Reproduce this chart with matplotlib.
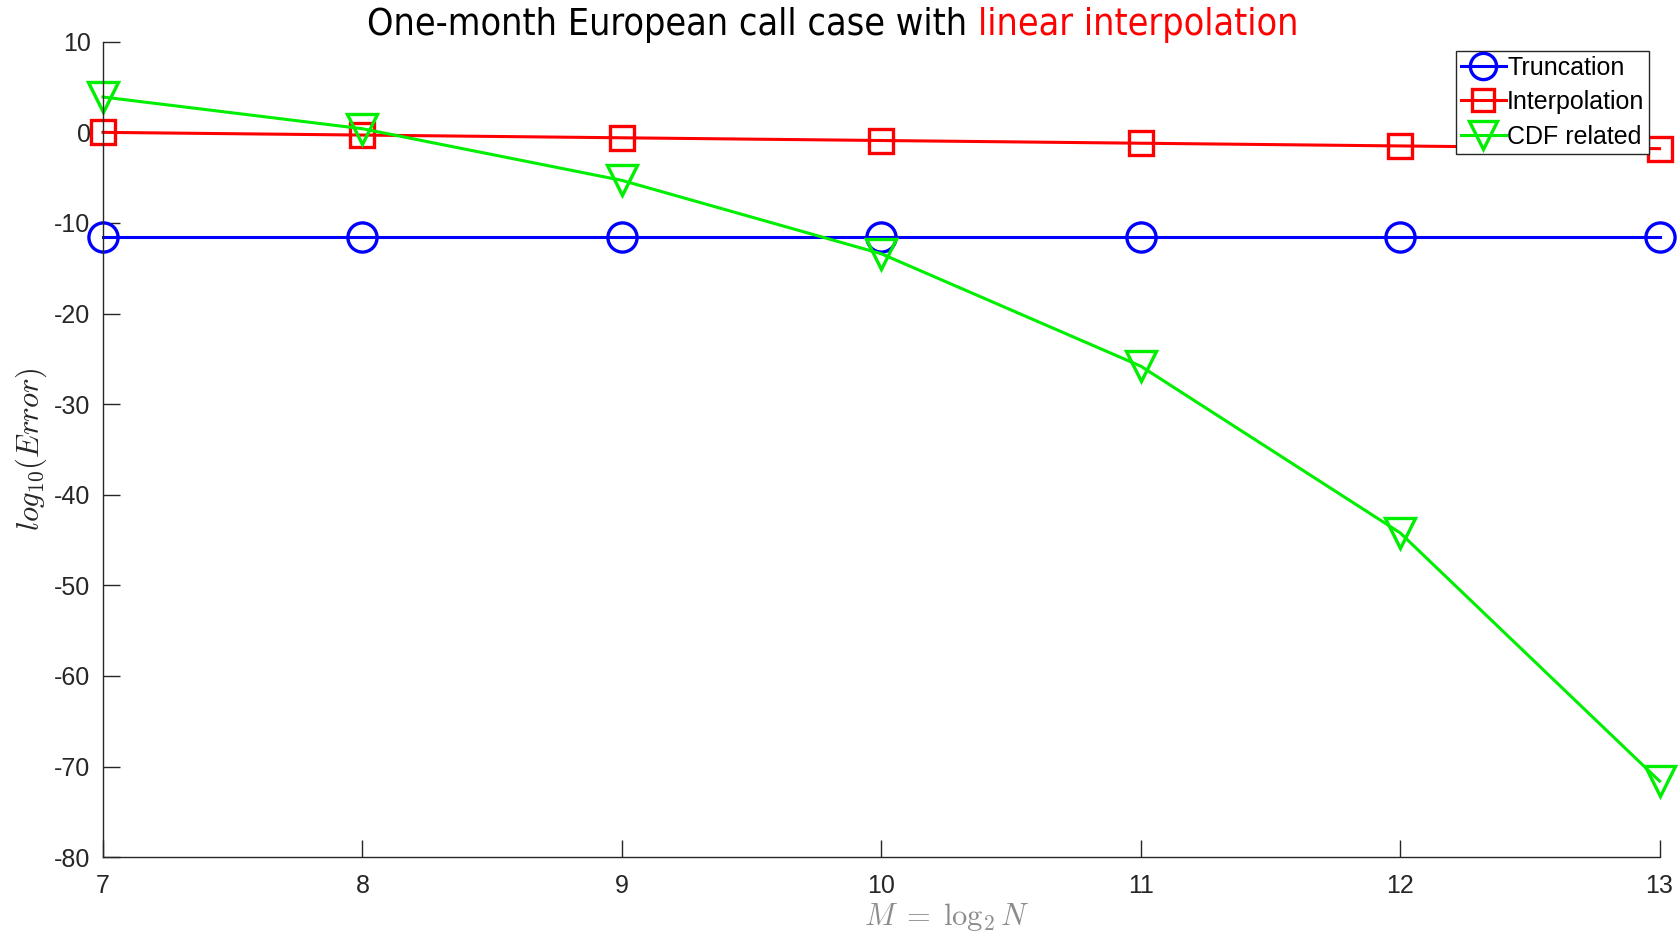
import matplotlib
matplotlib.use("Agg")
import matplotlib.pyplot as plt
import numpy as np

# data
M = [7, 8, 9, 10, 11, 12, 13]
truncation = [-11.5, -11.5, -11.5, -11.5, -11.5, -11.5, -11.5]
interpolation = [0.0, -0.3, -0.6, -0.9, -1.2, -1.5, -1.8]
cdf_related = [3.9, 0.4, -5.3, -13.4, -25.8, -44.2, -71.6]

yticks = [10, 0, -10, -20, -30, -40, -50, -60, -70, -80]

plt.rcParams['font.family'] = ['Liberation Sans', 'DejaVu Sans']
plt.rcParams['mathtext.fontset'] = 'cm'
plt.rcParams['axes.unicode_minus'] = False


def main():
    fig = plt.figure(figsize=(16.78, 9.36), dpi=100)
    ax = fig.add_axes([0.0614, 0.0842, 0.9276, 0.8712])

    ax.plot(M, truncation, color='#0000ff', lw=2.2, marker='o', ms=21,
            mfc='none', mec='#0000ff', mew=2.4, label='Truncation', clip_on=False)
    ax.plot(M, interpolation, color='#ff0000', lw=2.2, marker='s', ms=17,
            mfc='none', mec='#ff0000', mew=2.4, label='Interpolation', clip_on=False)
    ax.plot(M, cdf_related, color='#00ee00', lw=2.2, marker='v', ms=22,
            mfc='none', mec='#00ee00', mew=2.4, label='CDF related', clip_on=False)

    ax.set_xlim(7, 13)
    ax.set_ylim(-80, 10)
    ax.set_xticks(M)
    ax.set_yticks(yticks)
    ax.spines['top'].set_visible(False)
    ax.spines['right'].set_visible(False)
    for s in ('left', 'bottom'):
        ax.spines[s].set_color('#262626')
        ax.spines[s].set_linewidth(1.0)
    ax.tick_params(direction='in', length=12, width=1.0, colors='#262626',
                   labelsize=18, pad=9)
    ax.tick_params(axis='x', pad=12)

    leg = ax.legend(loc='upper right', bbox_to_anchor=(0.983, 0.946),
                    bbox_transform=fig.transFigure, fontsize=18,
                    fancybox=False, framealpha=1, edgecolor='#262626',
                    handlelength=1.8, handletextpad=0.05, borderpad=0.2,
                    labelspacing=0.42, borderaxespad=0, markerscale=0.9)
    leg.get_frame().set_linewidth(1.0)

    fig.text(0.0185, 0.52, r'$log_{10}(Error)$', rotation=90, fontsize=22,
             ha='center', va='center', color='#262626')
    fig.text(0.564, 0.02, r'$M\;=\;\log_2 N$', fontsize=22, ha='center',
             va='center', color='#8c8c8c')

    t = fig.text(0.219, 0.973, 'One-month European call case with ',
                 fontsize=27, family='DejaVu Sans', fontstretch='condensed',
                 ha='left', va='center')
    ax.annotate('linear interpolation', xy=(1, 0.5), xycoords=t,
                ha='left', va='center', fontsize=27, family='DejaVu Sans',
                fontstretch='condensed', color='#ff0000', annotation_clip=False)

    fig.savefig('out.png', dpi=100)


if __name__ == '__main__':
    main()
